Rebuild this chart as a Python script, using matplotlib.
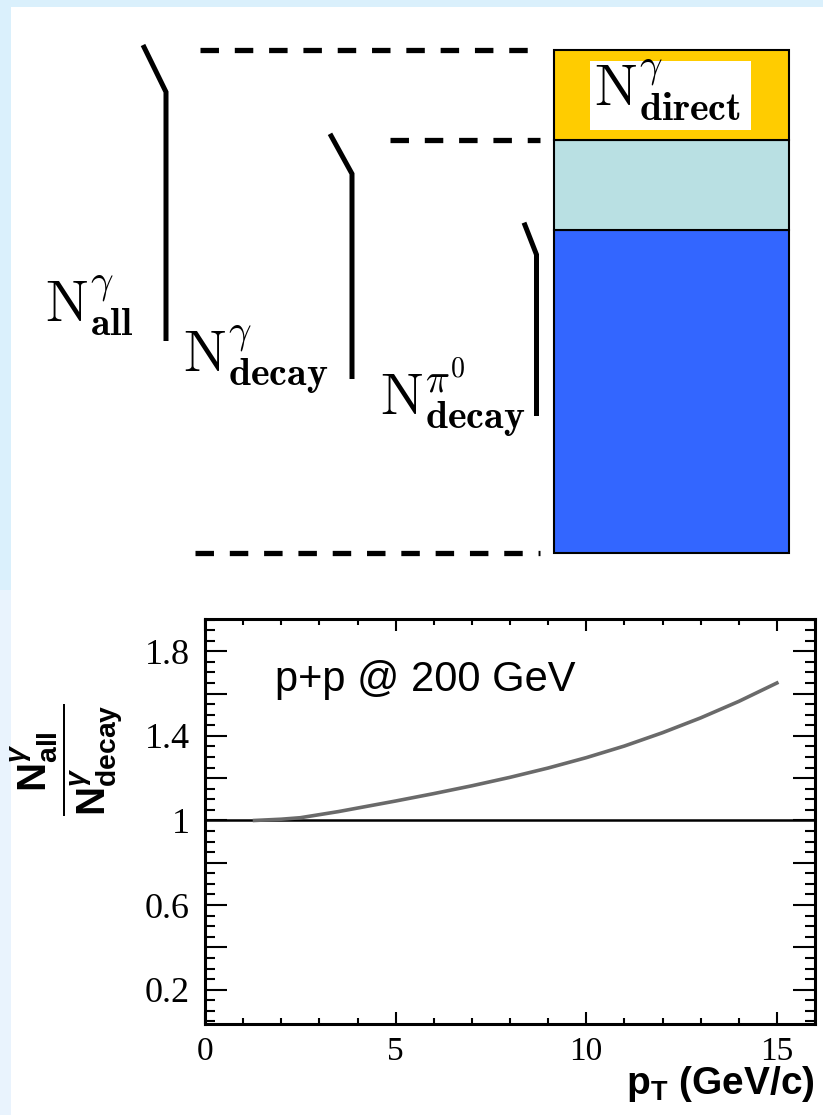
import matplotlib
matplotlib.use("Agg")
import matplotlib.pyplot as plt
from matplotlib.patches import Rectangle
from matplotlib.ticker import MultipleLocator, FuncFormatter

# --- data -------------------------------------------------------------
# schematic photon yields (stacked bar, bottom to top)
components = ["pi0 decay", "other decay", "direct"]
yields = [3.6, 1.0, 1.0]
comp_colors = ["#3366ff", "#b9e0e3", "#ffcc00"]

# N_all / N_decay ratio vs pT, p+p at 200 GeV
pt = [1.3, 2.0, 2.5, 3.5, 5.0, 6.0, 7.0, 8.0, 9.0, 10.0, 11.0, 12.0, 13.0, 14.0, 15.0]
ratio = [1.0, 1.006, 1.013, 1.042, 1.092, 1.127, 1.164, 1.204, 1.248, 1.297,
         1.352, 1.415, 1.485, 1.563, 1.65]

x_ticks = [0, 5, 10, 15]
y_labelled = [0.2, 0.6, 1.0, 1.4, 1.8]

# --- figure -----------------------------------------------------------
W, H = 823, 1115
fig = plt.figure(figsize=(W / 100, H / 100), dpi=100)
fig.patch.set_facecolor("#daf0fc")
fig.add_artist(Rectangle((11 / W, 0), 1 - 11 / W, (H - 7) / H, transform=fig.transFigure,
                         fc="white", ec="none", zorder=-5))
fig.add_artist(Rectangle((0, 0), 11 / W, (H - 590) / H, transform=fig.transFigure,
                         fc="#e9f3fd", ec="none", zorder=-5))

# top schematic: x in pixels, y in yield units
top_h = 580
bar_top_row, bar_bot_row = 50, 553
total = sum(yields)
px_per_unit = (bar_bot_row - bar_top_row) / total


def row(r):
    return (bar_bot_row - r) / px_per_unit


axd = fig.add_axes([0, (H - top_h) / H, 1, top_h / H])
axd.set_xlim(0, W)
axd.set_ylim(row(top_h), row(0))
axd.axis("off")

cum = 0.0
for name, val, col in zip(components, yields, comp_colors):
    axd.bar(671.5, val, width=235, bottom=cum, color=col, edgecolor="black", linewidth=1.5, zorder=2)
    cum += val

# dashed guide lines at total, decay total and zero
levels = [total, yields[0] + yields[1], 0.0]
starts = [200, 390, 195]
for lev, x0 in zip(levels, starts):
    axd.plot([x0, 540], [lev, lev], color="black", lw=3.8, dashes=(3.5, 3.0))

# brackets: (level, x of vertical, dx of slant, top offset px, kink row offset, bottom row)
brackets = [
    (total, 166, 23, 5, 47, 341),
    (yields[0] + yields[1], 352, 22, 6, 40, 379),
    (yields[0], 536.5, 12.5, 7, 32, 416),
]
for lev, xv, dx, off, kink, bot in brackets:
    r_top = bar_bot_row - lev * px_per_unit - off
    axd.plot([xv - dx, xv, xv], [row(r_top), row(r_top + kink), row(bot)],
             color="black", lw=3.6, solid_joinstyle="miter", solid_capstyle="butt")

axd.add_patch(Rectangle((590, row(130)), 161, row(61) - row(130), fc="white", ec="none", zorder=3))
labels = [
    (45, 322, r"$\mathrm{N}^{\gamma}_{\mathbf{all}}$"),
    (183, 372, r"$\mathrm{N}^{\gamma}_{\mathbf{decay}}$"),
    (380, 415, r"$\mathrm{N}^{\pi^{0}}_{\mathbf{decay}}$"),
    (594, 107, r"$\mathrm{N}^{\gamma}_{\mathbf{direct}}$"),
]
for x, r, s in labels:
    axd.text(x, row(r), s, fontsize=41, math_fontfamily="cm", ha="left", va="baseline", zorder=4)

# bottom ratio plot
plt.rcParams["mathtext.fontset"] = "custom"
plt.rcParams["mathtext.rm"] = "Liberation Sans:bold"
plt.rcParams["mathtext.bf"] = "Liberation Sans:bold"
plt.rcParams["mathtext.it"] = "Liberation Sans:bold:italic"

ax = fig.add_axes([205 / W, (H - 1023.5) / H, 610 / W, 405 / H])
ax.set_facecolor("white")
ax.axhline(1.0, color="black", lw=1.8, zorder=2)
ax.plot(pt, ratio, color="#6a6a6a", lw=2.6, zorder=3)
ax.set_xlim(0, 16)
ax.set_ylim(0.04, 1.955)

ax.xaxis.set_major_locator(MultipleLocator(5))
ax.xaxis.set_minor_locator(MultipleLocator(1))
ax.yaxis.set_major_locator(MultipleLocator(0.2))
ax.yaxis.set_minor_locator(MultipleLocator(0.05))
ax.xaxis.set_major_formatter(FuncFormatter(lambda v, p: f"{v:g}" if v in x_ticks else ""))
ax.yaxis.set_major_formatter(FuncFormatter(
    lambda v, p: f"{v:g}" if any(abs(v - t) < 1e-6 for t in y_labelled) else ""))

ax.tick_params(which="both", direction="in", top=True, right=True, width=1.5, color="black")
ax.tick_params(axis="y", which="major", length=16, pad=11, labelsize=26)
ax.tick_params(axis="y", which="minor", length=7.5)
ax.tick_params(axis="x", which="major", length=8.6, pad=9, labelsize=24)
ax.tick_params(axis="x", which="minor", length=4)
for lbl in ax.get_xticklabels() + ax.get_yticklabels():
    lbl.set_fontfamily("Liberation Serif")
for sp in ax.spines.values():
    sp.set_linewidth(2.2)

ax.text(1.83, 1.613, "p+p @ 200 GeV", fontsize=30, family="Liberation Sans",
        ha="left", va="baseline")

fig.text(815 / W, 1 - 1094 / H, r"$\mathbf{p}_{\mathbf{T}}$ (GeV/c)", fontsize=28,
         family="Liberation Sans", fontweight="bold", ha="right", va="baseline")
fig.text(67 / W, 1 - 760 / H,
         r"$\dfrac{\mathbf{N}^{\gamma}_{\mathbf{all}}}{\mathbf{N}^{\gamma}_{\mathbf{decay}}}$",
         fontsize=29, rotation=90, ha="center", va="center")

fig.savefig("out.png", dpi=100)
